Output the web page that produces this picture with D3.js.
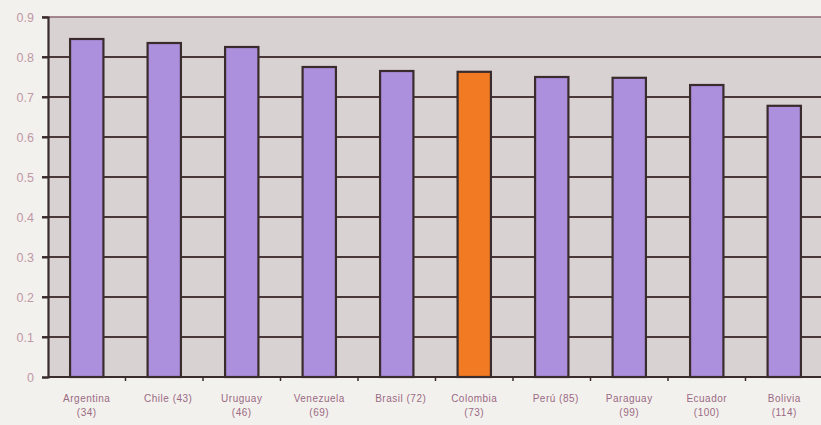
<!DOCTYPE html>
<html>
<head>
<meta charset="utf-8">
<script src="https://cdn.jsdelivr.net/npm/d3@7"></script>
<style>
  body { margin: 0; background: #f3f1ed; }
  svg { display: block; }
</style>
</head>
<body>
<div id="chart"></div>
<script>
// data
let countries = ["Argentina", "Chile", "Uruguay", "Venezuela", "Brasil",
                 "Colombia", "Perú", "Paraguay", "Ecuador", "Bolivia"];
let ranks = [34, 43, 46, 69, 72, 73, 85, 99, 100, 114];
let values = [0.845, 0.835, 0.825, 0.775, 0.765, 0.763, 0.75, 0.748, 0.73, 0.678];
let wrapped = [true, false, true, true, false, true, false, true, true, true];
let highlight = "Colombia";
let yTicks = [0, 0.1, 0.2, 0.3, 0.4, 0.5, 0.6, 0.7, 0.8, 0.9];

let width = 821;
let height = 425;
let margin = {top: 17, left: 48, bottom: 48};
let plotW = 775; // runs a little past the right edge, as in the scan
let plotH = height - margin.top - margin.bottom;

let svg = d3.select("#chart")
    .append("svg")
    .attr("width", width)
    .attr("height", height);

let x = d3.scaleBand()
    .domain(countries)
    .range([margin.left, margin.left + plotW])
    .paddingInner(0.57)
    .paddingOuter(0.285);

let y = d3.scaleLinear()
    .domain([0, 0.9])
    .range([margin.top + plotH, margin.top]);

// plot background
svg.append("rect")
    .attr("x", margin.left)
    .attr("y", margin.top)
    .attr("width", plotW)
    .attr("height", plotH)
    .attr("fill", "#d9d2d2");

// gridlines
svg.append("g")
    .selectAll("line")
    .data(yTicks.filter(function(d) { return d > 0; }))
    .enter().append("line")
    .attr("x1", margin.left - 6)
    .attr("x2", margin.left + plotW)
    .attr("y1", function(d) { return y(d); })
    .attr("y2", function(d) { return y(d); })
    .attr("stroke", function(d) { return d === 0.9 ? "#8c6470" : "#4a3838"; })
    .attr("stroke-width", function(d) { return d === 0.9 ? 1.6 : 2; });

// bars
svg.append("g")
    .selectAll("rect")
    .data(countries)
    .enter().append("rect")
    .attr("x", function(d) { return x(d); })
    .attr("y", function(d, i) { return y(values[i]); })
    .attr("width", x.bandwidth())
    .attr("height", function(d, i) { return y(0) - y(values[i]); })
    .attr("fill", function(d) { return d === highlight ? "#f27a22" : "#ac90de"; })
    .attr("stroke", "#3a2c2c")
    .attr("stroke-width", 2.2);

// y axis
let yAxis = d3.axisLeft(y)
    .tickValues(yTicks)
    .tickSize(6)
    .tickFormat(function(d) { return d === 0 ? "0" : d3.format(".1f")(d); });

let yg = svg.append("g")
    .attr("transform", "translate(" + margin.left + ",0)")
    .call(yAxis);
yg.select(".domain").attr("stroke", "#3a2c2c").attr("stroke-width", 2.2);
yg.selectAll(".tick line").attr("stroke", "#3a2c2c").attr("stroke-width", 2);
yg.selectAll(".tick text")
    .attr("x", -14)
    .attr("fill", "#bf98a6")
    .style("font-family", "Liberation Sans, Arial, sans-serif")
    .style("font-size", "12.5px");

// x axis
let xg = svg.append("g")
    .attr("transform", "translate(0," + y(0) + ")");
xg.append("line")
    .attr("x1", margin.left)
    .attr("x2", margin.left + plotW)
    .attr("stroke", "#3a2c2c")
    .attr("stroke-width", 2.2);
xg.selectAll(".xtick")
    .data(countries.slice(1))
    .enter().append("line")
    .attr("class", "xtick")
    .attr("x1", function(d) { return x(d) - x.step() * x.paddingInner() / 2; })
    .attr("x2", function(d) { return x(d) - x.step() * x.paddingInner() / 2; })
    .attr("y1", 0)
    .attr("y2", 4)
    .attr("stroke", "#3a2c2c")
    .attr("stroke-width", 1.5);

let labels = xg.selectAll(".xlabel")
    .data(countries)
    .enter().append("text")
    .attr("class", "xlabel")
    .attr("text-anchor", "middle")
    .attr("fill", "#9a6a84")
    .style("font-family", "Liberation Sans, Arial, sans-serif")
    .style("font-size", "10px")
    .style("letter-spacing", "0.5px");

labels.each(function(d, i) {
    let t = d3.select(this);
    let cx = x(d) + x.bandwidth() / 2;
    let r = "(" + ranks[i] + ")";
    if (wrapped[i]) {
        t.append("tspan").attr("x", cx).attr("y", 25).text(d);
        t.append("tspan").attr("x", cx).attr("y", 39).text(r);
    } else {
        t.append("tspan").attr("x", cx + 4).attr("y", 25).text(d + " " + r);
    }
});
</script>
</body>
</html>
